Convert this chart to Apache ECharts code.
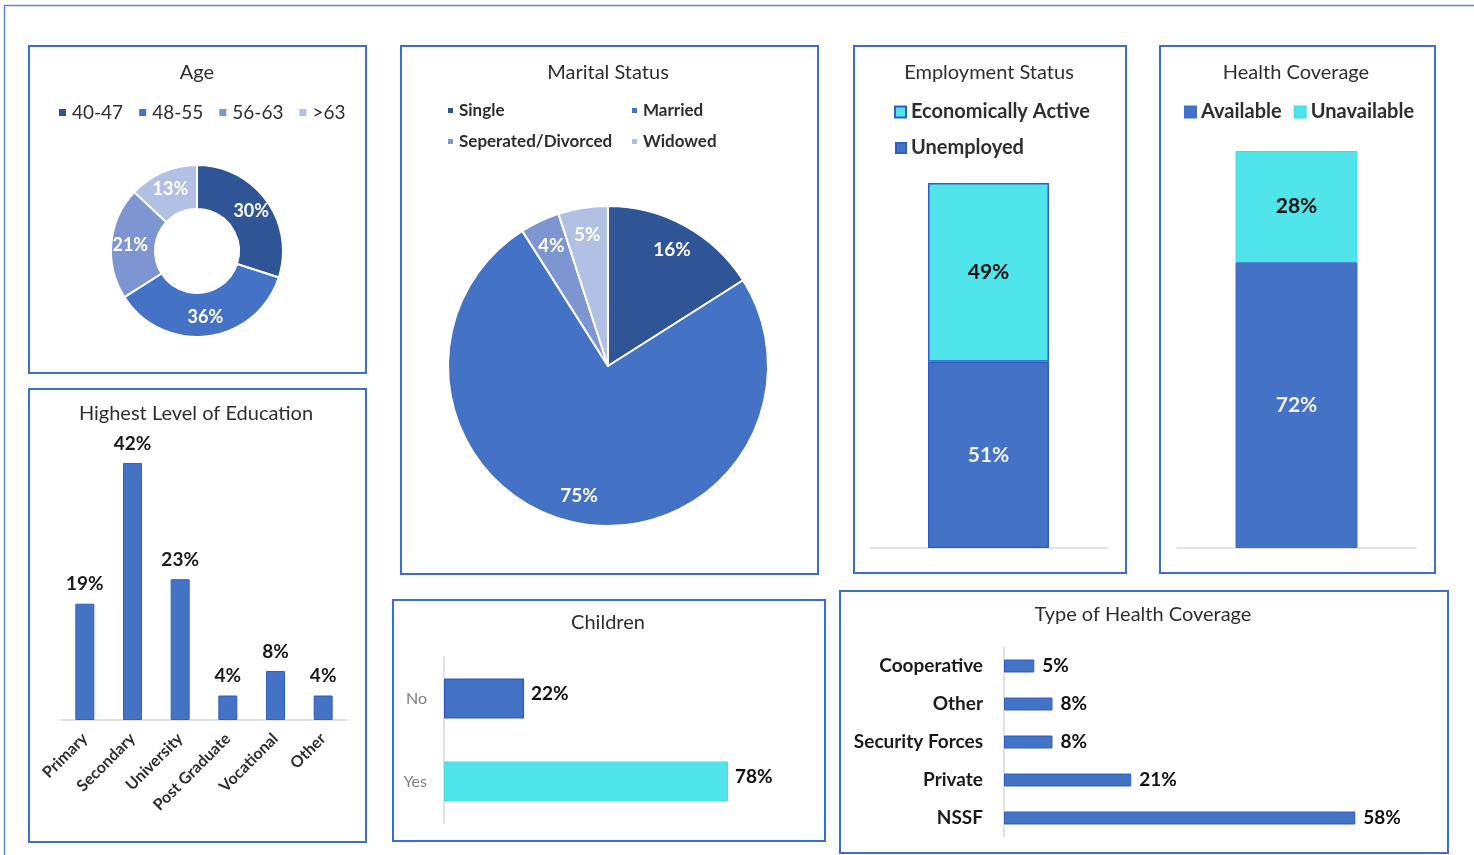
<!DOCTYPE html>
<html>
<head>
<meta charset="utf-8">
<title>Respondent Profile</title>
<script src="https://cdn.jsdelivr.net/npm/echarts@6/dist/echarts.min.js"></script>
<style>
  html, body { margin: 0; padding: 0; background: #ffffff; }
  #dash { width: 1474px; height: 855px; }
</style>
</head>
<body>
<div id="dash"></div>
<script>
// ---- data ----
const ageGroups = ['40-47', '48-55', '56-63', '>63'];
const ageShares = [30, 36, 21, 13];

const maritalGroups = ['Single', 'Married', 'Seperated/Divorced', 'Widowed'];
const maritalShares = [16, 75, 4, 5];

const employmentGroups = ['Unemployed', 'Economically Active'];
const employmentShares = [51, 49];

const coverageGroups = ['Available', 'Unavailable'];
const coverageShares = [72, 28];

const educationLevels = ['Primary', 'Secondary', 'University', 'Post Graduate', 'Vocational', 'Other'];
const educationShares = [19, 42, 23, 4, 8, 4];

const childrenAnswers = ['Yes', 'No'];
const childrenShares = [78, 22];

const coverageTypes = ['NSSF', 'Private', 'Security Forces', 'Other', 'Cooperative'];
const coverageTypeShares = [58, 21, 8, 8, 5];

// ---- styling ----
const FONT = 'Lato, "Open Sans", sans-serif';
const BLUE = '#4472C4';
const BLUE_EDGE = '#2F5EC4';
const DARK = '#2F5597';
const MID = '#7D95D1';
const LIGHT = '#B1C0E3';
const CYAN = '#50E4EB';
const FRAME = '#3C6DD0';
const TEXT = '#2e2e2e';
const AXIS = '#D9D9D9';

const pct = p => p.value + '%';

function frame(x, y, w, h, lw) {
  return { type: 'rect', silent: true, z: 0,
    shape: { x: x, y: y, width: w, height: h },
    style: { fill: 'none', stroke: FRAME, lineWidth: lw || 2 } };
}
function heading(text, x, y) {
  return { type: 'text', silent: true, x: x, y: y,
    style: { text: text, font: '20px ' + FONT, fill: TEXT, align: 'center', verticalAlign: 'middle' } };
}
function legendAt(names, left, top, opts) {
  return Object.assign({
    data: names, left: left, top: top, icon: 'rect', itemWidth: 9, itemHeight: 9,
    itemGap: 14, selectedMode: false, padding: 0,
    textStyle: { fontFamily: FONT, fontSize: 19, color: TEXT }
  }, opts || {});
}
const maritalLegendText = { fontFamily: FONT, fontSize: 17, fontWeight: 'bold', color: TEXT };
const boldLegendText = { fontFamily: FONT, fontSize: 20, fontWeight: 'bold', color: TEXT };

const chart = echarts.init(document.getElementById('dash'), null, { renderer: 'canvas' });

const option = {
  animation: false,
  backgroundColor: '#ffffff',
  graphic: [
    { type: 'rect', silent: true, shape: { x: 4.5, y: 5.5, width: 1480, height: 860 },
      style: { fill: 'none', stroke: '#5A86D8', lineWidth: 1.5 } },
    frame(29, 46, 337, 327),
    frame(29, 389, 337, 453),
    frame(401, 46, 417, 528),
    frame(854, 46, 272, 527),
    frame(1160, 46, 275, 527),
    frame(393, 600, 432, 241),
    frame(840, 591, 608, 262),
    heading('Age', 197, 73),
    heading('Marital Status', 608, 73),
    heading('Employment Status', 989, 73),
    heading('Health Coverage', 1296, 73),
    heading('Highest Level of Education', 196, 414),
    heading('Children', 608, 623),
    heading('Type of Health Coverage', 1143, 615)
  ],
  legend: [
    legendAt(ageGroups, 57, 103),
    legendAt([maritalGroups[0]], 446, 102, { itemWidth: 7, itemHeight: 7, textStyle: maritalLegendText }),
    legendAt([maritalGroups[1]], 630, 102, { itemWidth: 7, itemHeight: 7, textStyle: maritalLegendText }),
    legendAt([maritalGroups[2]], 446, 133, { itemWidth: 7, itemHeight: 7, textStyle: maritalLegendText }),
    legendAt([maritalGroups[3]], 630, 133, { itemWidth: 7, itemHeight: 7, textStyle: maritalLegendText }),
    legendAt([employmentGroups[1]], 894, 102, { itemWidth: 11, itemHeight: 11, textStyle: boldLegendText }),
    legendAt([employmentGroups[0]], 895, 138, { itemWidth: 10, itemHeight: 10, textStyle: boldLegendText }),
    legendAt(coverageGroups, 1184, 102, { itemWidth: 11, itemHeight: 11, itemGap: 12, textStyle: boldLegendText })
  ],
  grid: [
    { left: 61, top: 414, width: 286, height: 306 },   // education
    { left: 870, top: 183, width: 237, height: 365 },  // employment
    { left: 1177, top: 151, width: 239, height: 397 }, // health coverage
    { left: 444, top: 657, width: 364, height: 166 },  // children
    { left: 1004, top: 647, width: 424, height: 190 }  // type of coverage
  ],
  xAxis: [
    { gridIndex: 0, type: 'category', data: educationLevels,
      axisLine: { lineStyle: { color: AXIS, width: 1.5 } }, axisTick: { show: false },
      axisLabel: { rotate: 45, margin: 16, interval: 0, fontFamily: FONT, fontSize: 16, fontWeight: 'bold', color: TEXT } },
    { gridIndex: 1, type: 'category', data: [''],
      axisLine: { lineStyle: { color: AXIS, width: 1.5 } }, axisTick: { show: false }, axisLabel: { show: false } },
    { gridIndex: 2, type: 'category', data: [''],
      axisLine: { lineStyle: { color: AXIS, width: 1.5 } }, axisTick: { show: false }, axisLabel: { show: false } },
    { gridIndex: 3, type: 'value', min: 0, max: 100, show: false },
    { gridIndex: 4, type: 'value', min: 0, max: 70, show: false }
  ],
  yAxis: [
    { gridIndex: 0, type: 'value', min: 0, max: 50, show: false },
    { gridIndex: 1, type: 'value', min: 0, max: 100, show: false },
    { gridIndex: 2, type: 'value', min: 0, max: 100, show: false },
    { gridIndex: 3, type: 'category', data: childrenAnswers,
      axisLine: { lineStyle: { color: AXIS, width: 1.5 } }, axisTick: { show: false },
      axisLabel: { margin: 17, fontFamily: FONT, fontSize: 16, color: '#7F7F7F' } },
    { gridIndex: 4, type: 'category', data: coverageTypes,
      axisLine: { lineStyle: { color: AXIS, width: 1.5 } }, axisTick: { show: false },
      axisLabel: { margin: 21, fontFamily: FONT, fontSize: 19, fontWeight: 'bold', color: '#1a1a1a' } }
  ],
  series: [
    // Age donut
    { type: 'pie', name: 'Age', center: [197, 251], radius: [42, 86], startAngle: 90, clockwise: true,
      silent: true,
      itemStyle: { borderColor: '#ffffff', borderWidth: 2 },
      color: [DARK, BLUE, MID, LIGHT],
      label: { position: 'inside', formatter: pct, fontFamily: FONT, fontSize: 18, fontWeight: 'bold', color: '#ffffff' },
      labelLine: { show: false },
      data: ageGroups.map((n, i) => ({ name: n, value: ageShares[i] })) },
    // Marital status pie
    { type: 'pie', name: 'Marital Status', center: [608, 366], radius: [0, 160], startAngle: 90, clockwise: true,
      silent: true,
      itemStyle: { borderColor: '#ffffff', borderWidth: 2 },
      color: [DARK, BLUE, MID, LIGHT],
      label: { show: false }, labelLine: { show: false },
      data: maritalGroups.map((n, i) => ({ name: n, value: maritalShares[i] })) },
    // labels for the marital pie, set toward the rim
    { type: 'pie', name: 'Marital Labels', center: [608, 366], radius: [100, 160], startAngle: 90, clockwise: true,
      silent: true, z: 3,
      itemStyle: { color: 'rgba(0,0,0,0)', borderWidth: 0 },
      label: { position: 'inside', formatter: pct, fontFamily: FONT, fontSize: 19, fontWeight: 'bold', color: '#ffffff' },
      labelLine: { show: false },
      data: maritalGroups.map((n, i) => ({ name: n, value: maritalShares[i] })) },
    // Education
    { type: 'bar', name: 'Education', xAxisIndex: 0, yAxisIndex: 0, barWidth: 19,
      itemStyle: { color: BLUE, borderColor: BLUE_EDGE, borderWidth: 1 },
      label: { show: true, position: 'top', distance: 10, formatter: pct, fontFamily: FONT, fontSize: 19, fontWeight: 'bold', color: '#1a1a1a' },
      data: educationShares },
    // Employment status (stacked)
    { type: 'bar', name: employmentGroups[0], xAxisIndex: 1, yAxisIndex: 1, stack: 'emp', barWidth: 121,
      itemStyle: { color: BLUE, borderColor: BLUE_EDGE, borderWidth: 1.5 },
      label: { show: true, position: 'inside', formatter: pct, fontFamily: FONT, fontSize: 21, fontWeight: 'bold', color: '#F2F2F2' },
      data: [employmentShares[0]] },
    { type: 'bar', name: employmentGroups[1], xAxisIndex: 1, yAxisIndex: 1, stack: 'emp', barWidth: 121,
      itemStyle: { color: CYAN, borderColor: BLUE_EDGE, borderWidth: 1.5 },
      label: { show: true, position: 'inside', formatter: pct, fontFamily: FONT, fontSize: 21, fontWeight: 'bold', color: '#111111' },
      data: [employmentShares[1]] },
    // Health coverage (stacked)
    { type: 'bar', name: coverageGroups[0], xAxisIndex: 2, yAxisIndex: 2, stack: 'cov', barWidth: 122,
      itemStyle: { color: BLUE, borderColor: '#3F6FD0', borderWidth: 1 },
      label: { show: true, position: 'inside', formatter: pct, fontFamily: FONT, fontSize: 21, fontWeight: 'bold', color: '#F2F2F2' },
      data: [coverageShares[0]] },
    { type: 'bar', name: coverageGroups[1], xAxisIndex: 2, yAxisIndex: 2, stack: 'cov', barWidth: 122,
      itemStyle: { color: CYAN, borderColor: '#45DDE6', borderWidth: 1 },
      label: { show: true, position: 'inside', formatter: pct, fontFamily: FONT, fontSize: 21, fontWeight: 'bold', color: '#111111' },
      data: [coverageShares[1]] },
    // Children
    { type: 'bar', name: 'Children', xAxisIndex: 3, yAxisIndex: 3, barWidth: 40,
      label: { show: true, position: 'right', distance: 7, formatter: pct, fontFamily: FONT, fontSize: 19, fontWeight: 'bold', color: '#111111', offset: [0, -5] },
      data: childrenShares.map((v, i) => ({
        value: v,
        itemStyle: childrenAnswers[i] === 'Yes'
          ? { color: CYAN, borderColor: '#45DDE6', borderWidth: 1 }
          : { color: BLUE, borderColor: BLUE_EDGE, borderWidth: 1.5 }
      })) },
    // Type of health coverage
    { type: 'bar', name: 'Type of Health Coverage', xAxisIndex: 4, yAxisIndex: 4, barWidth: 13,
      itemStyle: { color: BLUE, borderColor: BLUE_EDGE, borderWidth: 1 },
      label: { show: true, position: 'right', distance: 8, formatter: pct, fontFamily: FONT, fontSize: 19, fontWeight: 'bold', color: '#111111' },
      data: coverageTypeShares }
  ]
};

chart.setOption(option);
</script>
</body>
</html>
